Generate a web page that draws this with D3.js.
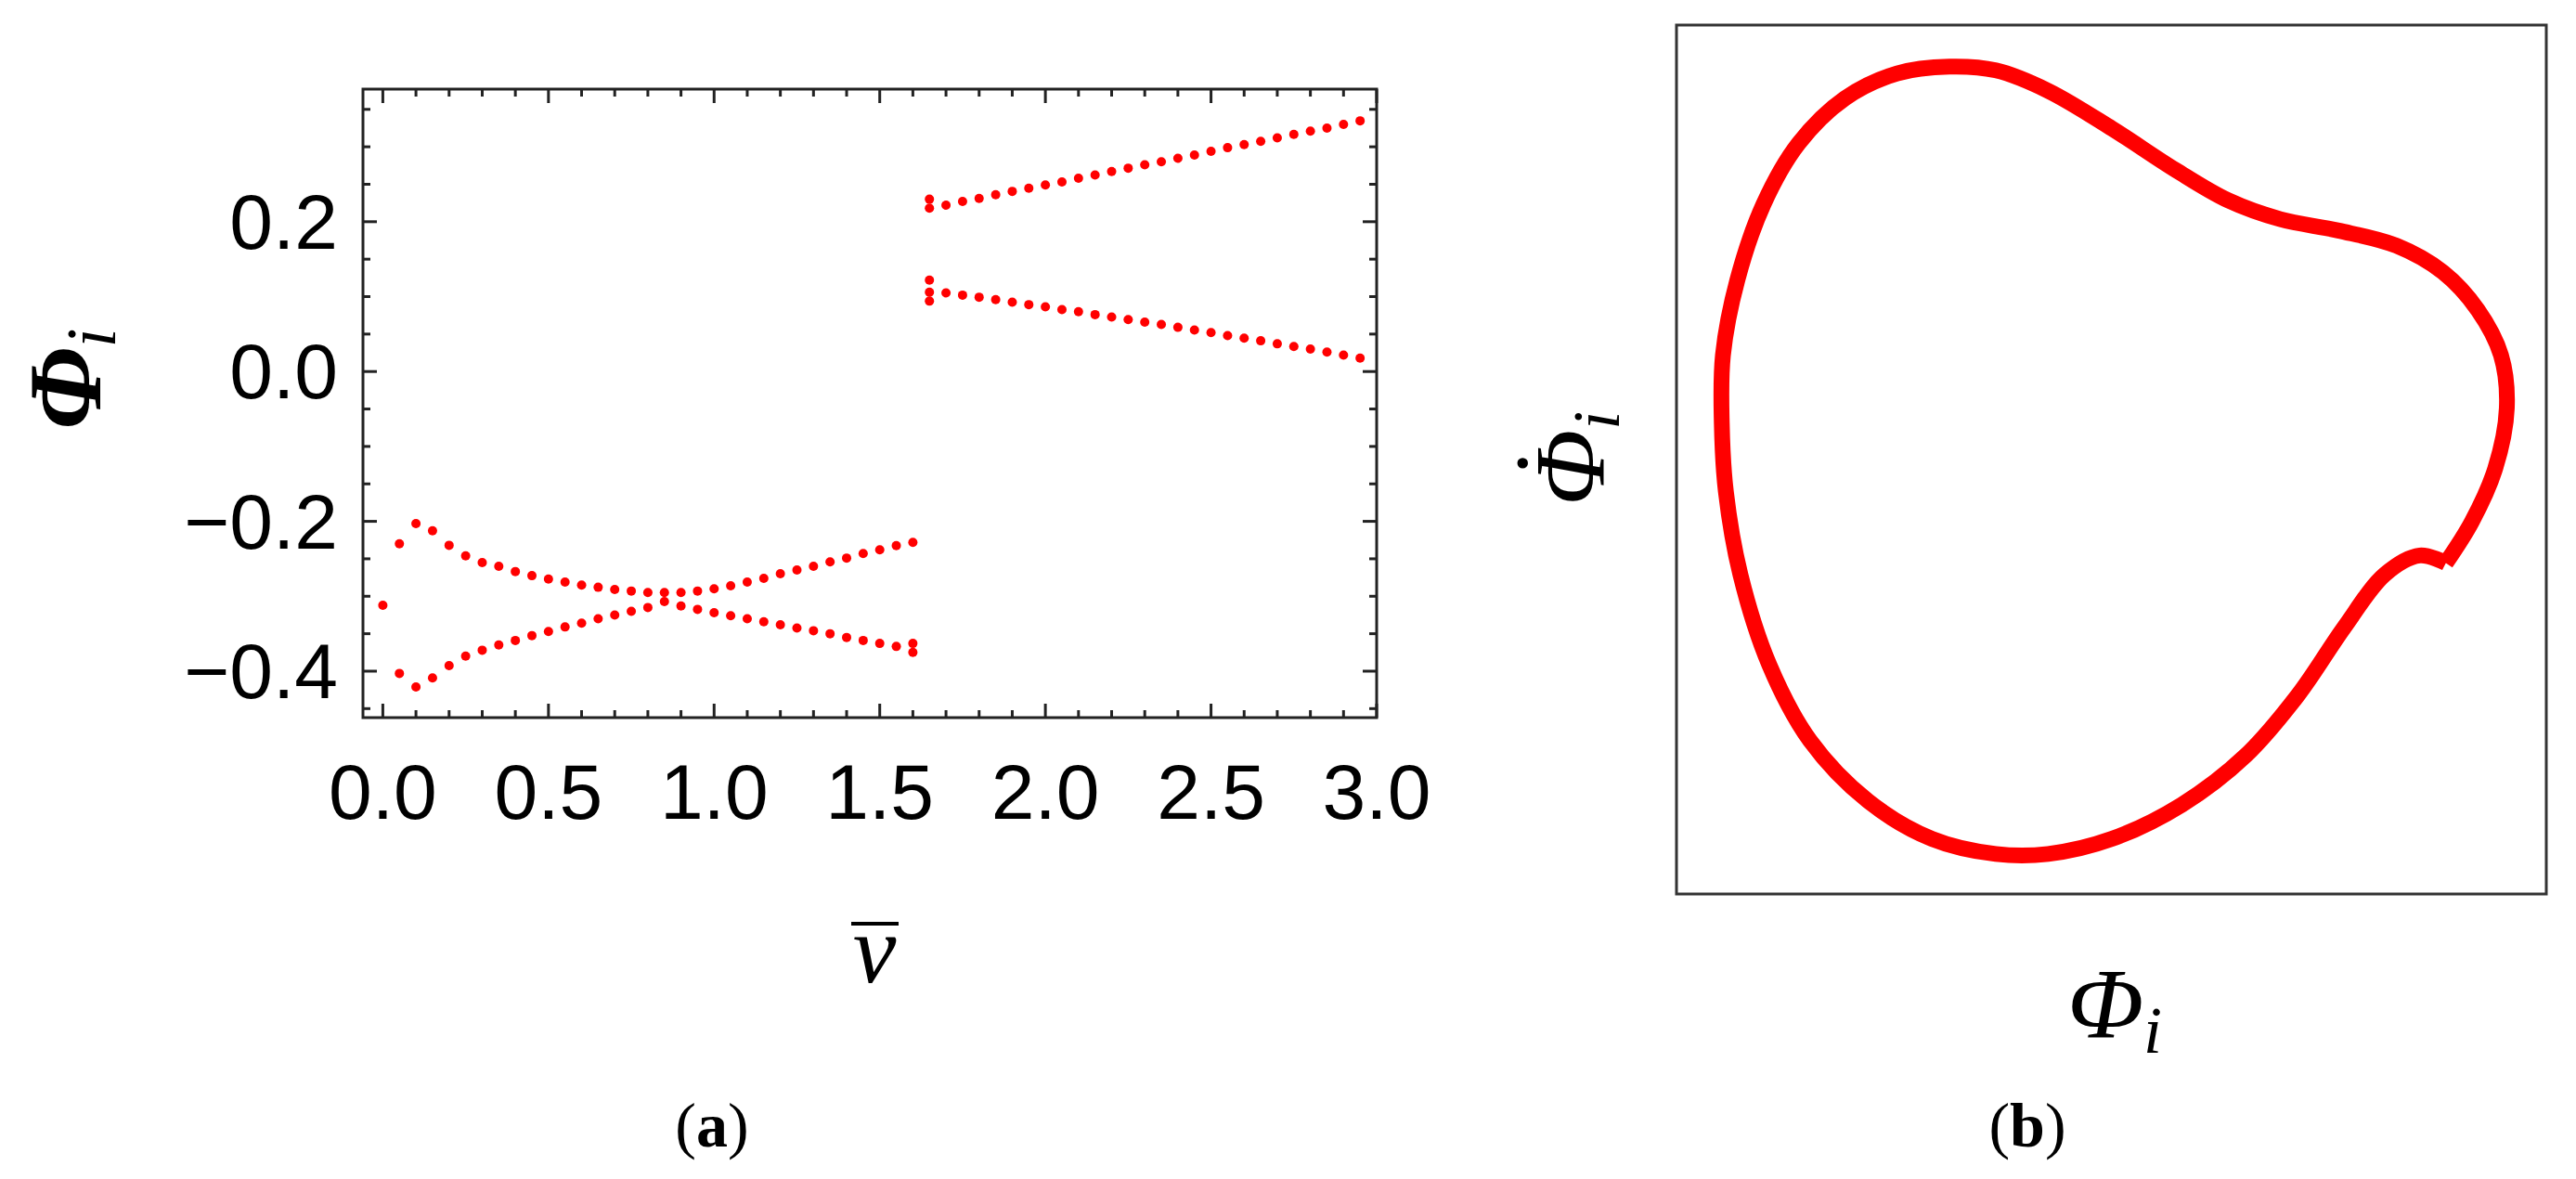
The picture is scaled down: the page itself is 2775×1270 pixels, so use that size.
<!DOCTYPE html>
<html>
<head>
<meta charset="utf-8">
<script src="https://cdn.jsdelivr.net/npm/d3@7"></script>
<style>
  body { margin: 0; background: #fff; }
  svg { display: block; }
</style>
</head>
<body>
<svg id="chart" width="2775" height="1270"></svg>
<script>
// panel (a) data
var vLeft = [0.05, 0.1, 0.15, 0.2, 0.25, 0.3, 0.35, 0.4, 0.45, 0.5, 0.55, 0.6, 0.65, 0.7, 0.75, 0.8,
  0.85, 0.9, 0.95, 1.0, 1.05, 1.1, 1.15, 1.2, 1.25, 1.3, 1.35, 1.4, 1.45, 1.5, 1.55, 1.6];
var phiLeftUpper = [-0.230, -0.203, -0.2125, -0.232, -0.246, -0.255, -0.260, -0.267, -0.2725, -0.277,
  -0.281, -0.285, -0.288, -0.291, -0.293, -0.295, -0.295, -0.295, -0.293, -0.290, -0.286, -0.281,
  -0.276, -0.270, -0.265, -0.260, -0.254, -0.249, -0.243, -0.238, -0.2325, -0.228];
var phiLeftLower = [-0.403, -0.421, -0.409, -0.3925, -0.380, -0.372, -0.365, -0.359, -0.3525, -0.347,
  -0.341, -0.336, -0.330, -0.325, -0.320, -0.315, -0.307, -0.313, -0.3175, -0.322, -0.326, -0.330,
  -0.334, -0.338, -0.3425, -0.346, -0.350, -0.355, -0.359, -0.363, -0.367, -0.363];
var vRight = [1.7, 1.75, 1.8, 1.85, 1.9, 1.95, 2.0, 2.05, 2.1, 2.15, 2.2, 2.25, 2.3, 2.35, 2.4, 2.45,
  2.5, 2.55, 2.6, 2.65, 2.7, 2.75, 2.8, 2.85, 2.9, 2.95];
var phiRightUpper = [0.222, 0.227, 0.231, 0.236, 0.2405, 0.2446, 0.249, 0.253, 0.258, 0.2624, 0.267,
  0.2715, 0.276, 0.280, 0.2847, 0.289, 0.294, 0.2988, 0.303, 0.3074, 0.312, 0.3165, 0.321, 0.325,
  0.330, 0.3347];
var phiRightLower = [0.105, 0.102, 0.0992, 0.0959, 0.0926, 0.0893, 0.0864, 0.0826, 0.0798, 0.076,
  0.0727, 0.0694, 0.066, 0.0628, 0.059, 0.0554, 0.052, 0.048, 0.0446, 0.041, 0.037, 0.0335, 0.030,
  0.026, 0.022, 0.018];
// stray points at the jumps
var vExtra = [0, 1.6, 1.65, 1.65, 1.65, 1.65, 1.65];
var phiExtra = [-0.312, -0.375, 0.230, 0.218, 0.122, 0.106, 0.094];

var xTicks = [0, 0.5, 1, 1.5, 2, 2.5, 3];
var yTicks = [-0.4, -0.2, 0, 0.2];

// panel (b) orbit, arbitrary units (no tick values shown)
var orbitPhi = [1335, 1380, 1420, 1440, 1430, 1390, 1330, 1250, 1150, 1050, 960, 870, 760, 650, 560,
  480, 390, 300, 220, 160, 115, 90, 88, 95, 120, 170, 240, 340, 450, 560, 650, 760, 880, 990, 1080,
  1160, 1230, 1290, 1335];
var orbitPhiDot = [745, 690, 620, 540, 470, 410, 360, 325, 305, 290, 265, 225, 170, 120, 93,
  88, 97, 130, 190, 270, 370, 470, 560, 650, 760, 880, 980, 1060, 1110, 1130, 1130, 1110, 1065, 1000, 920,
  830, 760, 735, 745];

var svg = d3.select("#chart");
var red = "#ff0000";
var sans = "'Liberation Sans', Arial, sans-serif";
var serif = "'Liberation Serif', 'Times New Roman', serif";

// ---------- panel (a) ----------
var x = d3.scaleLinear().domain([-0.06, 3.0]).range([391, 1483]);
var y = d3.scaleLinear().domain([-0.462, 0.377]).range([773, 96]);

var gA = svg.append("g");
gA.append("rect").attr("x", 391).attr("y", 96).attr("width", 1092).attr("height", 677)
  .attr("fill", "none").attr("stroke", "#222").attr("stroke-width", 3);

var xMinor = d3.range(0, 3.001, 0.1);
var yMinor = d3.range(-0.45, 0.376, 0.05);
function isMajor(v, step) { return Math.abs(v / step - Math.round(v / step)) < 1e-6; }

xMinor.forEach(function (v) {
  var len = isMajor(v, 0.5) ? 15 : 8;
  gA.append("line").attr("x1", x(v)).attr("x2", x(v)).attr("y1", 773).attr("y2", 773 - len)
    .attr("stroke", "#222").attr("stroke-width", 3);
  gA.append("line").attr("x1", x(v)).attr("x2", x(v)).attr("y1", 96).attr("y2", 96 + len)
    .attr("stroke", "#222").attr("stroke-width", 3);
});
yMinor.forEach(function (v) {
  var len = isMajor(v, 0.2) ? 15 : 8;
  gA.append("line").attr("x1", 391).attr("x2", 391 + len).attr("y1", y(v)).attr("y2", y(v))
    .attr("stroke", "#222").attr("stroke-width", 3);
  gA.append("line").attr("x1", 1483).attr("x2", 1483 - len).attr("y1", y(v)).attr("y2", y(v))
    .attr("stroke", "#222").attr("stroke-width", 3);
});

gA.selectAll(".xl").data(xTicks).enter().append("text")
  .attr("x", function (d) { return x(d); }).attr("y", 853)
  .attr("text-anchor", "middle").attr("dominant-baseline", "central")
  .style("font-family", sans).style("font-size", "84px")
  .text(function (d) { return d3.format(".1f")(d); });
gA.selectAll(".yl").data(yTicks).enter().append("text")
  .attr("x", 364).attr("y", function (d) { return y(d); })
  .attr("text-anchor", "end").attr("dominant-baseline", "central")
  .style("font-family", sans).style("font-size", "84px")
  .text(function (d) { return d3.format(".1f")(d).replace("-", "\u2212"); });

var pts = [];
vLeft.forEach(function (v, i) { pts.push([v, phiLeftUpper[i]]); pts.push([v, phiLeftLower[i]]); });
vRight.forEach(function (v, i) { pts.push([v, phiRightUpper[i]]); pts.push([v, phiRightLower[i]]); });
vExtra.forEach(function (v, i) { pts.push([v, phiExtra[i]]); });
gA.selectAll("circle").data(pts).enter().append("circle")
  .attr("cx", function (d) { return x(d[0]); }).attr("cy", function (d) { return y(d[1]); })
  .attr("r", 5).attr("fill", red);

// axis titles
var yt = gA.append("text").attr("transform", "translate(108,408) rotate(-90)")
  .attr("text-anchor", "middle").style("font-family", serif).style("font-size", "112px")
  .style("font-style", "italic").style("font-weight", "bold");
yt.append("tspan").text("\u03A6");
yt.append("tspan").attr("dy", 16).style("font-size", "76px").style("font-weight", "normal").text("i");

gA.append("text").attr("x", 942).attr("y", 1058).attr("text-anchor", "middle")
  .style("font-family", serif).style("font-size", "105px").style("font-style", "italic").text("v");
gA.append("line").attr("x1", 917).attr("x2", 968).attr("y1", 995).attr("y2", 995)
  .attr("stroke", "#000").attr("stroke-width", 4);

var la = gA.append("text").attr("x", 767).attr("y", 1235).attr("text-anchor", "middle")
  .style("font-family", serif).style("font-size", "68px");
la.append("tspan").text("(");
la.append("tspan").style("font-weight", "bold").text("a");
la.append("tspan").text(")");

// ---------- panel (b) ----------
var px = d3.scaleLinear().domain([10, 1508]).range([1806, 2743]);
var py = d3.scaleLinear().domain([33, 1183]).range([27, 963]);
var gB = svg.append("g");
gB.append("rect").attr("x", 1806).attr("y", 27).attr("width", 937).attr("height", 936)
  .attr("fill", "none").attr("stroke", "#333").attr("stroke-width", 3);

var orbit = orbitPhi.map(function (p, i) { return [p, orbitPhiDot[i]]; });
gB.append("path").datum(orbit)
  .attr("d", d3.line().x(function (d) { return px(d[0]); }).y(function (d) { return py(d[1]); })
    .curve(d3.curveCatmullRom.alpha(0.5)))
  .attr("fill", "none").attr("stroke", red).attr("stroke-width", 17).attr("stroke-linejoin", "miter");

var bx = gB.append("text").attr("x", 2278).attr("y", 1118).attr("text-anchor", "middle")
  .style("font-family", serif).style("font-size", "108px").style("font-style", "italic");
bx.append("tspan").text("\u03A6");
bx.append("tspan").attr("dy", 16).style("font-size", "72px").text("i");

// rotated y title: Φ with a dot over it, subscript i
var byG = gB.append("g").attr("transform", "translate(1728,545) rotate(-90)");
var by = byG.append("text").attr("x", 0).attr("y", 0)
  .style("font-family", serif).style("font-size", "108px").style("font-style", "italic");
by.append("tspan").text("\u03A6");
by.append("tspan").attr("dy", 16).style("font-size", "72px").text("i");
byG.append("text").attr("x", 46).attr("y", -22).attr("text-anchor", "middle")
  .style("font-family", serif).style("font-size", "108px").text("\u02D9");

var lb = gB.append("text").attr("x", 2184).attr("y", 1235).attr("text-anchor", "middle")
  .style("font-family", serif).style("font-size", "68px");
lb.append("tspan").text("(");
lb.append("tspan").style("font-weight", "bold").text("b");
lb.append("tspan").text(")");
</script>
</body>
</html>
